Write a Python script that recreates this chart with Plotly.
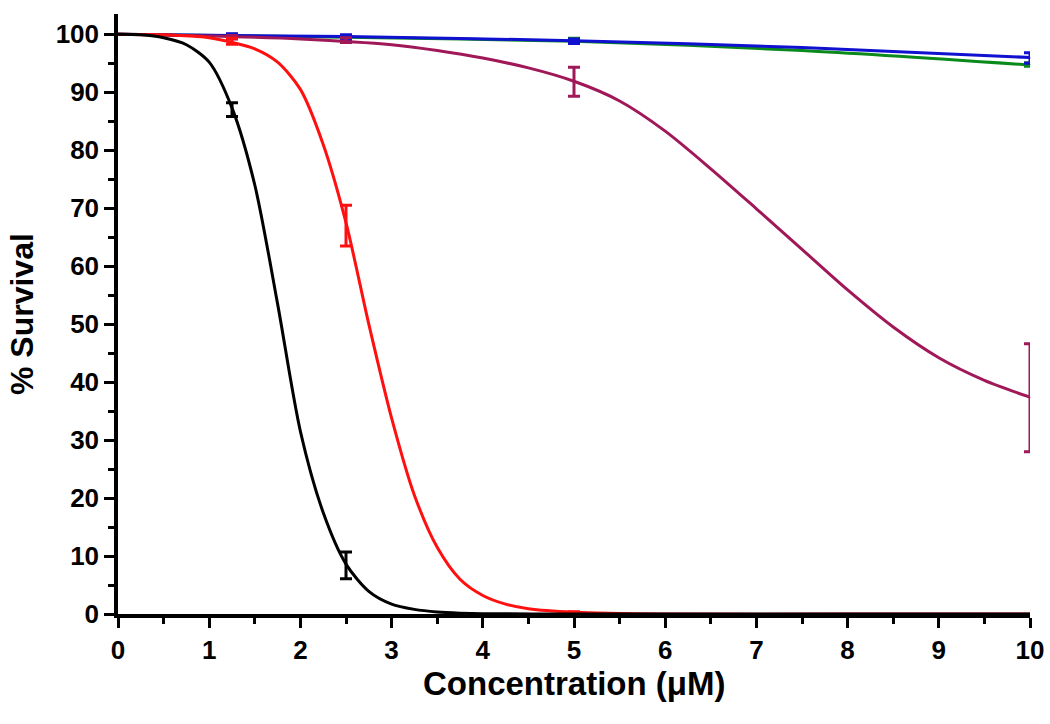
import plotly.graph_objects as go

# ---- fitted curves ----
black_x = [0, 0.25, 0.5, 0.75, 1.0, 1.25, 1.5, 1.75, 2.0, 2.25, 2.5, 2.75, 3.0, 3.25, 3.5, 3.75, 4.0, 5.0, 6, 8, 10]
black_y = [100, 99.9, 99.4, 98.2, 95.2, 87.3, 74, 53.5, 31.5, 17.5, 8.6, 3.9, 1.7, 0.8, 0.35, 0.15, 0.05, 0, 0, 0, 0]

red_x = [0, 0.5, 1.0, 1.25, 1.5, 1.75, 2.0, 2.25, 2.5, 2.75, 3.0, 3.25, 3.5, 3.75, 4.0, 4.25, 4.5, 5.0, 6, 8, 10]
red_y = [100, 99.9, 99.4, 98.6, 97.5, 95.2, 90.5, 81, 67.5, 50, 33.8, 20.5, 11.5, 6, 3.2, 1.7, 0.9, 0.3, 0, 0, 0]

purple_x = [0, 1, 2, 3, 3.5, 4, 4.5, 5, 5.5, 6, 6.5, 7, 7.5, 8, 8.5, 9, 9.5, 10]
purple_y = [100, 99.7, 99.2, 98.2, 97.2, 95.9, 94.2, 91.9, 88.5, 83.3, 76.8, 69.9, 62.9, 55.9, 49.5, 44.2, 40.3, 37.4]

green_x = [0, 2.5, 5, 7.5, 10]
green_y = [100, 99.5, 98.8, 97.2, 94.7]

blue_x = [0, 2.5, 5, 7.5, 10]
blue_y = [100, 99.6, 98.9, 97.7, 96.0]

# ---- measured points (mean +/- error) ----
black_pt_x = [1.25, 2.5]
black_pt_y = [87.0, 8.4]
black_pt_e = [1.2, 2.3]

red_pt_x = [1.25, 2.5, 5.0]
red_pt_y = [98.8, 67.0, 0.2]
red_pt_e = [0.5, 3.5, 0.2]

purple_pt_x = [1.25, 2.5, 5, 10]
purple_pt_y = [99.5, 99.0, 91.8, 37.3]
purple_pt_e = [0.3, 0.4, 2.5, 9.3]

green_pt_x = [1.25, 2.5, 5, 10]
green_pt_y = [99.8, 99.5, 98.9, 94.8]
green_pt_e = [0.2, 0.3, 0.4, 0.3]

blue_pt_x = [1.25, 2.5, 5, 10]
blue_pt_y = [99.8, 99.5, 98.8, 95.9]
blue_pt_e = [0.3, 0.4, 0.4, 0.9]

x_ticks = [0, 1, 2, 3, 4, 5, 6, 7, 8, 9, 10]
y_ticks = [0, 10, 20, 30, 40, 50, 60, 70, 80, 90, 100]
x_title = "Concentration (\u03bcM)"
y_title = "% Survival"

GREEN = "#0a8a1a"
BLUE = "#1010d0"
PURPLE = "#a01858"
RED = "#ff1010"
BLACK = "#000000"

series = [
    (green_x, green_y, green_pt_x, green_pt_y, green_pt_e, GREEN),
    (blue_x, blue_y, blue_pt_x, blue_pt_y, blue_pt_e, BLUE),
    (purple_x, purple_y, purple_pt_x, purple_pt_y, purple_pt_e, PURPLE),
    (red_x, red_y, red_pt_x, red_pt_y, red_pt_e, RED),
    (black_x, black_y, black_pt_x, black_pt_y, black_pt_e, BLACK),
]

fig = go.Figure()
for cx, cy, px, py, pe, col in series:
    fig.add_trace(go.Scatter(x=cx, y=cy, mode="lines",
                             line=dict(color=col, width=3, shape="spline", smoothing=0.8),
                             cliponaxis=False, showlegend=False, hoverinfo="skip"))
    fig.add_trace(go.Scatter(x=px, y=py, mode="markers",
                             marker=dict(color=col, size=1),
                             error_y=dict(type="data", array=pe, visible=True,
                                          color=col, thickness=3, width=6),
                             cliponaxis=False, showlegend=False))

font_family = "Liberation Sans, Arial, sans-serif"
axis_common = dict(
    showline=True, linecolor="black", linewidth=3.5,
    ticks="outside", ticklen=10, tickwidth=3, tickcolor="black",
    showgrid=False, zeroline=False, automargin=False,
    tickfont=dict(family=font_family, size=26, color="black", weight="bold"),
)

fig.update_layout(
    width=1050, height=724,
    margin=dict(l=118, r=20, t=14, b=110),
    paper_bgcolor="white", plot_bgcolor="white",
    xaxis=dict(range=[0, 10], tickmode="array", tickvals=x_ticks,
               minor=dict(dtick=0.5, ticks="outside", ticklen=6, tickwidth=3, tickcolor="black"),
               **axis_common),
    yaxis=dict(range=[0, 103.5], tickmode="array", tickvals=y_ticks,
               minor=dict(dtick=5, ticks="outside", ticklen=6, tickwidth=3, tickcolor="black"),
               **axis_common),
    annotations=[
        dict(text=x_title, xref="paper", yref="paper", x=0.5, y=0.0,
             yshift=-69, xanchor="center", yanchor="middle", showarrow=False,
             font=dict(family=font_family, size=33, color="black", weight="bold")),
        dict(text=y_title, xref="paper", yref="paper", x=0.0, y=0.5,
             xshift=-96, xanchor="center", yanchor="middle", showarrow=False, textangle=-90,
             font=dict(family=font_family, size=32, color="black", weight="bold")),
    ],
)

fig.write_html(
    "out.html",
    config={"displayModeBar": False},
    post_script="document.body.style.margin='0px';document.body.style.overflow='hidden';",
)
